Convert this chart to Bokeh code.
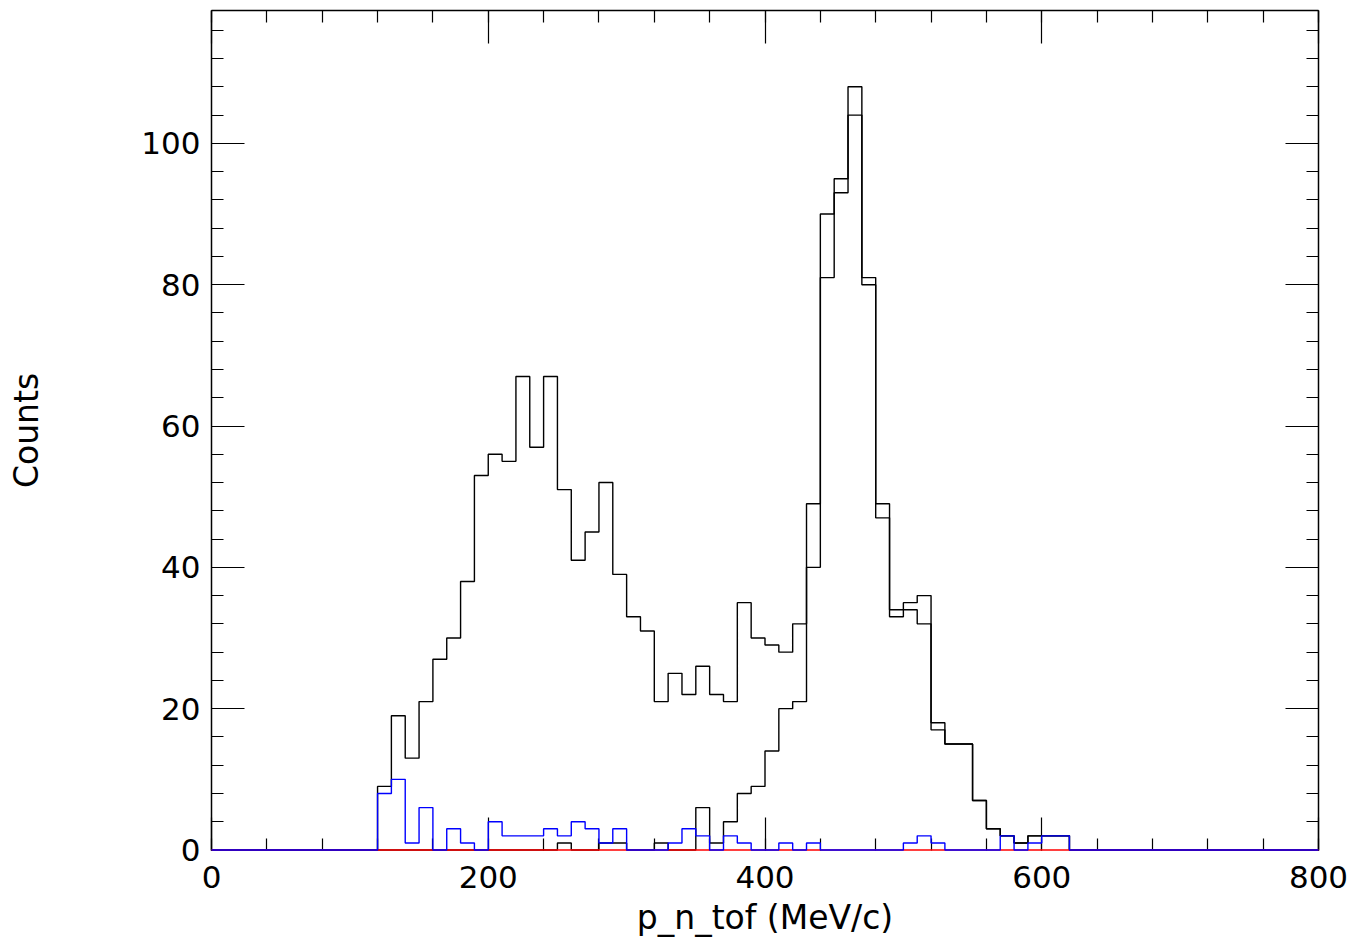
from bokeh.plotting import figure
from bokeh.models import Range1d, LinearAxis, FixedTicker
from bokeh.embed import file_html
from bokeh.resources import INLINE

# Histogram binning: 80 bins of 10 MeV/c from 0 to 800
bin_edges = [i * 10 for i in range(81)]

# Black histogram (all entries)
counts_all = ([0] * 12 +
              [9, 19, 13, 21, 27, 30, 38, 53, 56, 55,
               67, 57, 67, 51, 41, 45, 52, 39, 33, 31,
               21, 25, 22, 26, 22, 21, 35, 30, 29, 28,
               32, 49, 90, 95, 108, 81, 49, 34, 35, 36,
               18, 15, 15, 7, 3, 2, 1, 2, 2, 2] +
              [0] * 18)

# Second black histogram (selected subset)
counts_sel = ([0] * 25 +
              [1, 0, 0, 1, 1, 0, 0, 1, 0, 0,
               6, 1, 4, 8, 9, 14, 20, 21, 40, 81,
               93, 104, 80, 47, 33, 34, 32, 17, 15, 15,
               7, 3, 2, 1, 2, 2, 2] +
              [0] * 18)

# Red histogram (empty)
counts_red = [0] * 80

# Blue histogram
counts_blue = ([0] * 12 +
               [8, 10, 1, 6, 0, 3, 1, 0, 4, 2,
                2, 2, 3, 2, 4, 3, 1, 3, 0, 0,
                0, 1, 3, 2, 0, 2, 1, 0, 0, 1,
                0, 1, 0, 0, 0, 0, 0, 0, 1, 2,
                1, 0, 0, 0, 0, 2, 0, 1, 2, 2] +
               [0] * 18)

x_major = [0, 200, 400, 600, 800]
x_minor = list(range(0, 801, 40))
y_major = [0, 20, 40, 60, 80, 100]
y_minor = list(range(0, 119, 4))

FONT = "DejaVu Sans"

p = figure(width=1350, height=940,
           x_range=Range1d(0, 800), y_range=Range1d(-0.0707, 118.8),
           output_backend="svg", toolbar_location=None,
           min_border_left=211, min_border_right=32,
           min_border_top=10, min_border_bottom=90,
           x_axis_label="p_n_tof (MeV/c)", y_axis_label="Counts")
p.xgrid.visible = False
p.ygrid.visible = False
p.outline_line_color = None
p.background_fill_color = "white"
p.border_fill_color = "white"


def style_axis(ax, ticks, minor, labels=True):
    ax.ticker = FixedTicker(ticks=ticks, minor_ticks=minor)
    ax.major_tick_in = 33
    ax.major_tick_out = 0
    ax.minor_tick_in = 12
    ax.minor_tick_out = 0
    ax.major_tick_line_color = "black"
    ax.minor_tick_line_color = "black"
    ax.major_tick_line_width = 1.2
    ax.minor_tick_line_width = 1.2
    ax.axis_line_color = "black"
    ax.axis_line_width = 1.5
    if labels:
        ax.major_label_text_font = FONT
        ax.major_label_text_font_size = "31px"
        ax.major_label_text_color = "black"
        ax.axis_label_text_font = FONT
        ax.axis_label_text_font_size = "33px"
        ax.axis_label_text_font_style = "normal"
        ax.axis_label_text_color = "black"
    else:
        ax.major_label_text_font_size = "0px"
        ax.major_label_text_color = None
        ax.major_label_standoff = 0
        ax.axis_label = None


xa = p.xaxis[0]
ya = p.yaxis[0]
style_axis(xa, x_major, x_minor)
style_axis(ya, y_major, y_minor)
xa.major_label_standoff = 15
xa.axis_label_standoff = 7
ya.major_label_standoff = 11
ya.axis_label_standoff = 92
xa.axis_line_color = None

top = LinearAxis()
right = LinearAxis()
style_axis(top, x_major, x_minor, labels=False)
style_axis(right, y_major, y_minor, labels=False)
p.add_layout(top, "above")
p.add_layout(right, "right")


def step_xy(values):
    return bin_edges, list(values) + [values[-1]]


for vals, col in [(counts_all, "black"), (counts_sel, "black"),
                  (counts_red, "red"), (counts_blue, "blue")]:
    xs, ys = step_xy(vals)
    p.step(x=xs, y=ys, mode="after", line_color=col, line_width=1.4,
           level="overlay")

open("out.html", "w").write(file_html(p, INLINE))
